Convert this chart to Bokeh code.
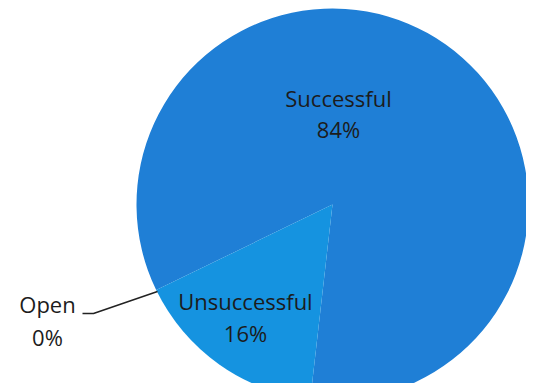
import math
from bokeh.plotting import figure
from bokeh.models import Range1d, ColumnDataSource
from bokeh.core.properties import value
from bokeh.embed import file_html
from bokeh.resources import INLINE

labels = ["Successful", "Unsuccessful", "Open"]
values = [84, 16, 0]
colors = ["#1f7fd6", "#1593e0", "#4a9be0"]

W, H = 526, 383
p = figure(width=W, height=H, output_backend="svg", toolbar_location=None,
           x_range=Range1d(0, W), y_range=Range1d(391 - H, 391),
           min_border=0)
p.axis.visible = False
p.grid.visible = False
p.outline_line_color = None
p.background_fill_color = "white"

cx, cy, r = 332, 391 - 204, 196
total = sum(values)
offset = math.radians(205.9)
order = [2, 1, 0]  # Open, Unsuccessful, Successful anticlockwise
starts, ends = [0.0] * 3, [0.0] * 3
a = offset
for i in order:
    starts[i] = a
    a += 2 * math.pi * values[i] / total
    ends[i] = a

keep = [i for i in range(3) if values[i] > 0]
src = ColumnDataSource(dict(start=[starts[i] for i in keep], end=[ends[i] for i in keep],
                            color=[colors[i] for i in keep]))
p.wedge(x=cx, y=cy, radius=r, start_angle="start", end_angle="end",
        color="color", line_color=None, direction="anticlock", source=src)

font = value("Open Sans")
pct = [f"{v}%" for v in values]
lx = [338, 245, 47]
ly1 = [391 - 97, 391 - 300, 391 - 303]
ly2 = [391 - 128, 391 - 332, 391 - 336]
p.text(x=lx, y=ly1, text=labels, text_font=font, text_font_size="22px",
       text_color="#1c1c1c", text_align="center", text_baseline="middle")
p.text(x=lx, y=ly2, text=pct, text_font=font, text_font_size="22px",
       text_color="#1c1c1c", text_align="center", text_baseline="middle")

p.line(x=[82, 93, 157], y=[391 - 313, 391 - 313, 391 - 291], line_color="#222222", line_width=1.5)

open("out.html", "w").write(file_html(p, INLINE))
